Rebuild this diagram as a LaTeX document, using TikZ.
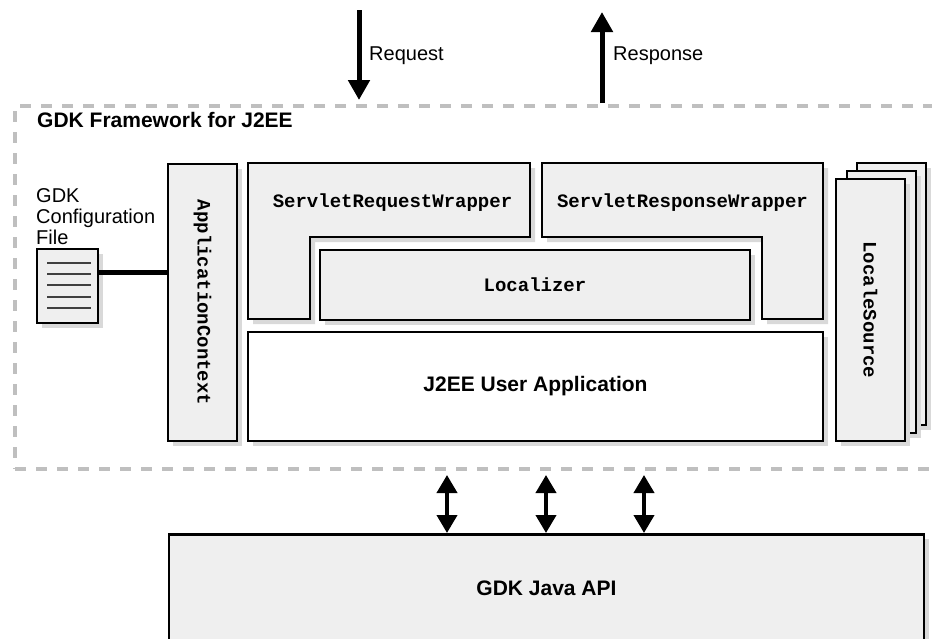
\documentclass[tikz,border=0pt]{standalone}
\usepackage{fontspec}
\setmainfont{Liberation Sans}
\setmonofont{Liberation Mono}
\usetikzlibrary{arrows.meta,shadows}
\definecolor{boxgray}{HTML}{EFEFEF}
\definecolor{shadegray}{HTML}{D9D9D9}
\definecolor{framegray}{HTML}{BFBFBF}
\tikzset{
  box/.style={rectangle, draw=black, line width=2.5pt, fill=boxgray, inner sep=0pt,
    drop shadow={shadow xshift=5pt, shadow yshift=-5pt, fill=shadegray, opacity=1}},
  whitebox/.style={box, fill=white},
  frame/.style={rectangle, draw=framegray, line width=4pt, dash pattern=on 11pt off 10pt, inner sep=0pt},
  codetext/.style={font=\fontsize{19}{19}\selectfont\ttfamily\bfseries, inner sep=0pt},
  boldtext/.style={font=\fontsize{21}{23}\selectfont\bfseries, inner sep=0pt},
  plaintext/.style={font=\fontsize{20}{21}\selectfont, inner sep=0pt},
  flow/.style={line width=5pt, -{Triangle[width=21pt,length=20pt]}},
  biflow/.style={line width=4pt, {Triangle[width=20pt,length=18pt]}-{Triangle[width=20pt,length=18pt]}}
}
\begin{document}
\begin{tikzpicture}[x=1pt, y=-1pt]
  \useasboundingbox (0,0) rectangle (932,638);
  % framework frame
  \node[frame, anchor=north west, minimum width=950pt, minimum height=363pt] (gdkFrame) at (13,104) {};
  \node[boldtext, anchor=base west] (fwTitle) at (37,127) {GDK Framework for J2EE};
  % request / response
  \coordinate (reqTop) at (359,10);
  \coordinate (reqEnd) at (359,100);
  \draw[flow] (reqTop) -- (reqEnd);
  \node[plaintext, anchor=base west] (reqLabel) at (369,60) {Request};
  \coordinate (respBottom) at (602,103);
  \coordinate (respTop) at (602,12);
  \draw[flow] (respBottom) -- (respTop);
  \node[plaintext, anchor=base west] (respLabel) at (613,60) {Response};
  % configuration file
  \node[plaintext, anchor=north west, align=left] (cfgText) at (36,188) {GDK\\Configuration\\File};
  \node[box, minimum width=61pt, minimum height=74pt] (cfgFile) at (67.5,286) {};
  \foreach \y in {263,274,285,297,308}
    \draw[line width=1.2pt, black!75] (47,\y) -- (91,\y);
  \node[box, minimum width=69pt, minimum height=277pt] (appCtx) at (202.5,302.5) {};
  \node[codetext, rotate=-90] (appCtxLabel) at (appCtx.center) {ApplicationContext};
  \draw[line width=5pt] ([yshift=14pt]cfgFile.east) -- ([yshift=14pt]cfgFile.east -| appCtx.west);
  % wrappers
  \draw[box] (248,163) -- (530,163) -- (530,237) -- (310,237) -- (310,319) -- (248,319) -- cycle;
  \node[codetext, anchor=base] (reqWrap) at (392.5,207) {ServletRequestWrapper};
  \draw[box] (542,163) -- (823,163) -- (823,319) -- (762,319) -- (762,237) -- (542,237) -- cycle;
  \node[codetext, anchor=base] (respWrap) at (682.5,207) {ServletResponseWrapper};
  \node[box, minimum width=430pt, minimum height=70pt, codetext] (localizer) at (535,285) {Localizer};
  \node[whitebox, minimum width=575pt, minimum height=109pt, boldtext] (userApp) at (535.5,386.5) {J2EE User Application};
  % locale sources
  \node[box, minimum width=69pt, minimum height=262pt] (localeBack) at (891.5,294) {};
  \node[box, minimum width=69pt, minimum height=262pt] (localeMid) at (881.5,302) {};
  \node[box, minimum width=69pt, minimum height=262pt] (localeSrc) at (870.5,310) {};
  \node[codetext, rotate=-90] (localeLabel) at (localeSrc.center) {LocaleSource};
  % java api
  \node[box, anchor=north, minimum width=755pt, minimum height=150pt] (javaApi) at (546.5,533) {};
  \node[boldtext] (apiLabel) at ([yshift=-55pt]javaApi.north) {GDK Java API};
  \foreach \x [count=\i] in {447,546,644} {
    \coordinate (apiTop\i) at (\x,475);
    \draw[biflow] (apiTop\i) -- (apiTop\i |- javaApi.north);
  }
\end{tikzpicture}
\end{document}
